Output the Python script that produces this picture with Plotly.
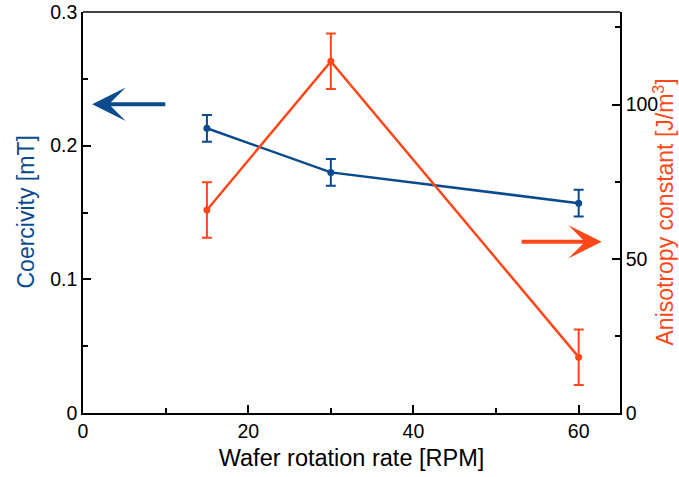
import plotly.graph_objects as go

rpm = [15, 30, 60]
coercivity = [0.213, 0.180, 0.157]
coercivity_err = [0.010, 0.010, 0.010]
anisotropy = [65.8, 114.0, 18.1]
anisotropy_err = [9.0, 9.0, 9.0]

BLUE = "#0a4a8e"
ORANGE = "#ff4819"
FONT = "Liberation Sans, Arial, sans-serif"

fig = go.Figure()
fig.add_trace(go.Scatter(
    x=rpm, y=coercivity, mode="lines+markers",
    line=dict(color=BLUE, width=2.5), marker=dict(color=BLUE, size=7),
    error_y=dict(type="data", array=coercivity_err, color=BLUE, thickness=2, width=5),
    yaxis="y", showlegend=False))
fig.add_trace(go.Scatter(
    x=rpm, y=anisotropy, mode="lines+markers",
    line=dict(color=ORANGE, width=2.5), marker=dict(color=ORANGE, size=7),
    error_y=dict(type="data", array=anisotropy_err, color=ORANGE, thickness=2, width=5),
    yaxis="y2", showlegend=False))

axis_common = dict(showline=True, linecolor="black", linewidth=1.5, ticks="inside",
                   ticklen=8, tickwidth=1.5, tickcolor="black", showgrid=False, zeroline=False,
                   automargin=False, ticklabeloverflow="allow",
                   tickfont=dict(family=FONT, size=19.5, color="black"))

fig.update_layout(
    template="none",
    width=679, height=477,
    margin=dict(l=83, r=59, t=12, b=64, pad=0),
    paper_bgcolor="white", plot_bgcolor="white",
    font=dict(family=FONT, size=19.5, color="black"),
    xaxis=dict(range=[0, 65], tickvals=[0, 20, 40, 60], mirror=False,
               minor=dict(tickvals=[10, 30, 50], ticks="inside", ticklen=5, tickwidth=1.5, tickcolor="black"),
               title=dict(text="Wafer rotation rate [RPM]", font=dict(family=FONT, size=23.5), standoff=8),
               **axis_common),
    yaxis=dict(range=[0, 0.3], tickvals=[0, 0.1, 0.2, 0.3],
               minor=dict(tickvals=[0.05, 0.15, 0.25], ticks="inside", ticklen=5, tickwidth=1.5, tickcolor="black"),
               **axis_common),
    yaxis2=dict(range=[0, 130], tickvals=[0, 50, 100], overlaying="y", side="right", anchor="x",
                minor=dict(tickvals=[25, 75, 125], ticks="inside", ticklen=5, tickwidth=1.5, tickcolor="black"),
                **axis_common),
)

# axis titles as rotated text
fig.add_annotation(xref="paper", yref="paper", x=0.0, y=0.5, xshift=-58,
                   xanchor="center", yanchor="middle", textangle=-90, showarrow=False,
                   text="Coercivity [mT]",
                   font=dict(family=FONT, size=23, color=BLUE))
fig.add_annotation(xref="paper", yref="paper", x=1.0, y=0.5, xshift=43,
                   xanchor="center", yanchor="middle", textangle=-90, showarrow=False,
                   text="Anisotropy constant [J/m<sup>3</sup>]",
                   font=dict(family=FONT, size=23, color=ORANGE))

# top border line
fig.add_shape(type="line", xref="paper", yref="paper", x0=0, x1=1, y0=1, y1=1,
              line=dict(color="black", width=1.5))

# arrows (axis-domain coordinates)
fig.add_annotation(xref="x domain", yref="y domain", x=0.017, y=0.77, ax=0.156, ay=0.77,
                   axref="x domain", ayref="y domain", showarrow=True, arrowhead=3, arrowsize=1.4,
                   arrowwidth=4, arrowcolor=BLUE, text="")
fig.add_annotation(xref="x domain", yref="y domain", x=0.966, y=0.427, ax=0.814, ay=0.427,
                   axref="x domain", ayref="y domain", showarrow=True, arrowhead=3, arrowsize=1.4,
                   arrowwidth=4, arrowcolor=ORANGE, text="")

fig.write_html("out.html", config={"displayModeBar": False},
               post_script="document.body.style.margin='0';document.body.style.overflow='hidden';")
